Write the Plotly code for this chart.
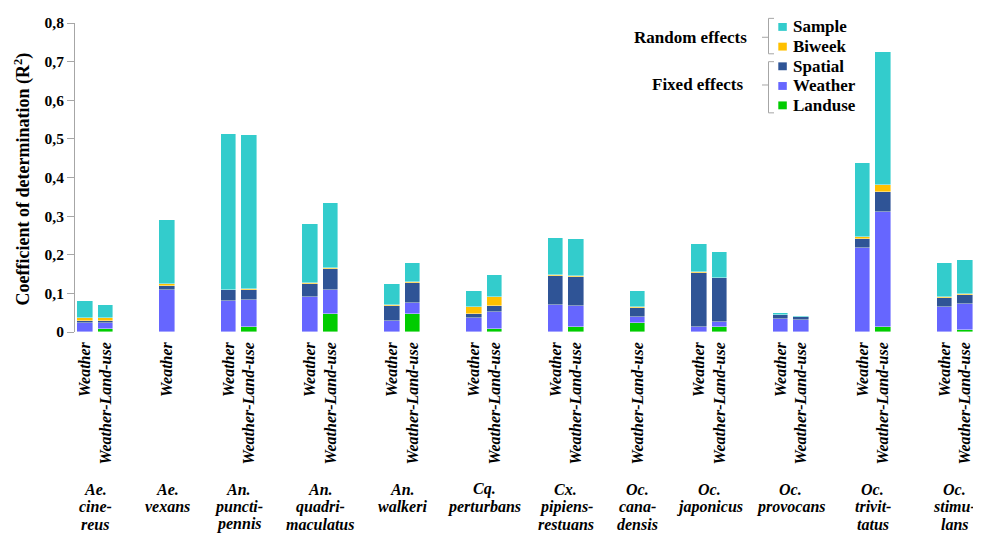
import plotly.graph_objects as go

# ---------------- data ----------------
species_labels = [
    "Ae.<br>cine-<br>reus", "Ae.<br>vexans", "An.<br>puncti-<br>pennis",
    "An.<br>quadri-<br>maculatus", "An.<br>walkeri", "Cq.<br>perturbans",
    "Cx.<br>pipiens-<br>restuans", "Oc.<br>cana-<br>densis", "Oc.<br>japonicus",
    "Oc.<br>provocans", "Oc.<br>trivit-<br>tatus", "Oc.<br>stimu-<br>lans",
]
# models available for each species (in order)
species_models = [
    ["Weather", "Weather-Land-use"], ["Weather"], ["Weather", "Weather-Land-use"],
    ["Weather", "Weather-Land-use"], ["Weather", "Weather-Land-use"], ["Weather", "Weather-Land-use"],
    ["Weather", "Weather-Land-use"], ["Weather-Land-use"], ["Weather", "Weather-Land-use"],
    ["Weather", "Weather-Land-use"], ["Weather", "Weather-Land-use"], ["Weather", "Weather-Land-use"],
]
# component R2 values, one per bar (bars in the same order as species_models flattened)
landuse = [0.000, 0.008, 0.000, 0.000, 0.012, 0.000, 0.047, 0.000, 0.047, 0.000, 0.008,
           0.000, 0.012, 0.024, 0.000, 0.012, 0.000, 0.001, 0.000, 0.012, 0.000, 0.006]
weather = [0.024, 0.016, 0.108, 0.080, 0.071, 0.090, 0.063, 0.028, 0.028, 0.036, 0.045,
           0.071, 0.056, 0.014, 0.014, 0.013, 0.034, 0.029, 0.217, 0.299, 0.066, 0.067]
spatial = [0.005, 0.005, 0.012, 0.028, 0.027, 0.034, 0.052, 0.040, 0.052, 0.011, 0.014,
           0.075, 0.075, 0.023, 0.140, 0.114, 0.009, 0.008, 0.024, 0.051, 0.021, 0.023]
biweek  = [0.007, 0.007, 0.003, 0.002, 0.002, 0.002, 0.003, 0.002, 0.003, 0.017, 0.024,
           0.002, 0.002, 0.003, 0.001, 0.001, 0.001, 0.000, 0.006, 0.018, 0.003, 0.002]
sample  = [0.044, 0.035, 0.166, 0.403, 0.399, 0.154, 0.170, 0.054, 0.048, 0.043, 0.057,
           0.095, 0.095, 0.043, 0.073, 0.068, 0.005, 0.003, 0.190, 0.345, 0.088, 0.089]

y_tickvals = [0, 0.1, 0.2, 0.3, 0.4, 0.5, 0.6, 0.7, 0.8]
y_ticktext = ["0", "0,1", "0,2", "0,3", "0,4", "0,5", "0,6", "0,7", "0,8"]

component_names = ["Landuse", "Weather", "Spatial", "Biweek", "Sample"]
component_colors = ["#00CC00", "#6666FF", "#2F5496", "#FFC000", "#33CCCC"]

# ---------------- slot layout ----------------
GAP_SLOTS = 2
bar_x, bar_labels, group_centers = [], [], []
slot = 0
for gi, models in enumerate(species_models):
    start = slot
    for m in models:
        bar_x.append(slot)
        bar_labels.append(m)
        slot += 1
    group_centers.append((start + slot - 1) / 2)
    slot += GAP_SLOTS
n_slots = slot - GAP_SLOTS

FONT = "Liberation Serif"

fig = go.Figure()
for name, vals, col in zip(component_names, [landuse, weather, spatial, biweek, sample], component_colors):
    fig.add_trace(go.Bar(
        x=bar_x, y=vals, name=name,
        marker=dict(color=col, line=dict(width=0.6, color="rgba(255,255,255,0.7)")),
        width=0.76, showlegend=False,
    ))

# ---------------- layout ----------------
OFF = 8  # page body margin
W, H = 981 - OFF, 539 - OFF
L, R, T, B = 75 - OFF, 6, 18 - OFF, 207
PW, PH = W - L - R, H - T - B


def px(xp):
    return (xp - OFF - L) / PW


def py(yp):
    return (OFF + T + PH - yp) / PH


fig.update_layout(
    width=W, height=H, barmode="stack",
    margin=dict(l=L, r=R, t=T, b=B, pad=0),
    plot_bgcolor="white", paper_bgcolor="white",
    font=dict(family=FONT, color="black"),
    bargap=0,
)
fig.update_xaxes(
    range=[-0.5, n_slots - 0.5], showgrid=False, zeroline=False, showline=False,
    tickmode="array", tickvals=bar_x, ticktext=bar_labels, tickangle=-90, ticks="",
    tickfont=dict(family=FONT, size=16, weight="bold", style="italic", color="black"),
    ticklabelstandoff=6,
)
fig.update_yaxes(
    range=[0, 0.8], showgrid=False, zeroline=False, showline=True, linecolor="#A6A6A6", linewidth=1,
    tickmode="array", tickvals=y_tickvals, ticktext=y_ticktext, ticks="outside", ticklen=7,
    tickcolor="#A6A6A6", tickfont=dict(family=FONT, size=15.5, weight="bold", color="black"),
)

annotations = []
# species labels (one annotation per line to get the tight line spacing)
LINE0, LINE_STEP = 492, 17.6
for gx, lab in zip(group_centers, species_labels):
    for li, part in enumerate(lab.split("<br>")):
        annotations.append(dict(
            x=gx, xref="x", y=py(LINE0 + li * LINE_STEP), yref="paper", text=part, showarrow=False,
            xanchor="center", yanchor="middle", align="center",
            font=dict(family=FONT, size=16, weight="bold", style="italic", color="black"),
        ))
# y title
annotations.append(dict(
    x=px(23), xref="paper", y=py(177), yref="paper", text="Coefficient of determination (R<sup>2</sup>)",
    textangle=-90, showarrow=False, xanchor="center", yanchor="middle",
    font=dict(family=FONT, size=18, weight="bold", color="black"),
))

# manual legend
legend_rows = [("Sample", 22), ("Biweek", 42), ("Spatial", 62), ("Weather", 82), ("Landuse", 101.7)]
color_of = dict(zip(component_names, component_colors))
shapes = []
for name, yc in legend_rows:
    shapes.append(dict(type="rect", xref="paper", yref="paper",
                       x0=px(778.3), x1=px(786.8), y0=py(yc - 4), y1=py(yc + 4),
                       fillcolor=color_of[name], line=dict(width=0)))
    annotations.append(dict(x=px(791), xref="paper", y=py(yc), yref="paper", text=name, showarrow=False,
                            xanchor="left", yanchor="middle",
                            font=dict(family=FONT, size=17, weight="bold", color="black")))
for label, y0b, y1b, ymid, xr in [("Random effects", 13.3, 49.3, 32.5, 749), ("Fixed effects", 57.3, 109.3, 81, 745)]:
    annotations.append(dict(x=px(xr), xref="paper", y=py(ymid), yref="paper", text=label, showarrow=False,
                            xanchor="right", yanchor="middle",
                            font=dict(family=FONT, size=17, weight="bold", color="black")))
    path = (f"M {px(774)},{py(y0b)} L {px(768.5)},{py(y0b)} L {px(768.5)},{py(y1b)} L {px(774)},{py(y1b)} "
            f"M {px(768.5)},{py(ymid)} L {px(762)},{py(ymid)}")
    shapes.append(dict(type="path", xref="paper", yref="paper", path=path,
                       line=dict(color="#A6A6A6", width=1)))

fig.update_layout(annotations=annotations, shapes=shapes)
fig.write_html("out.html")
